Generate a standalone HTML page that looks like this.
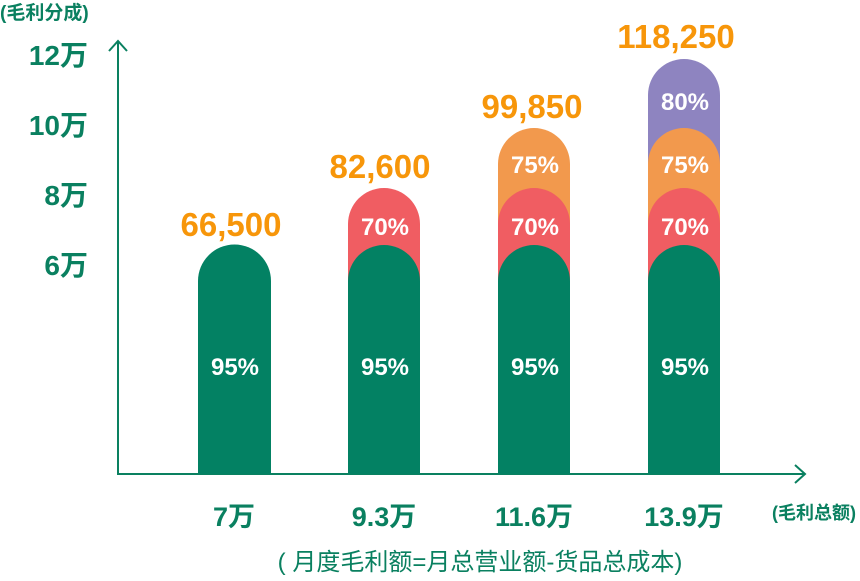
<!DOCTYPE html>
<html><head><meta charset="utf-8"><style>
body{margin:0;background:#fff;}
svg text{font-family:"Liberation Sans","Noto Sans CJK SC",sans-serif;font-weight:bold;}
</style></head><body>
<svg width="860" height="576" viewBox="0 0 860 576" xmlns="http://www.w3.org/2000/svg">
<g fill="#0a8060" stroke="none">
<text x="0" y="19" font-size="19">(毛利分成)</text>
<text x="88" y="65" font-size="28" text-anchor="end">12万</text>
<text x="88" y="135" font-size="28" text-anchor="end">10万</text>
<text x="88" y="205" font-size="28" text-anchor="end">8万</text>
<text x="88" y="275" font-size="28" text-anchor="end">6万</text>
</g>
<g stroke="#0a8060" stroke-width="2" fill="none">
<line x1="118" y1="41" x2="118" y2="475"/>
<polyline points="109,51 118,41 127,51"/>
<line x1="117" y1="474" x2="805" y2="474"/>
<polyline points="795,465 805,474 795,483"/>
</g>
<path fill="#038163" d="M198,281 A36.5,36.5 0 0 1 271,281 L271,474 L198,474 Z"/>
<path fill="#f05d62" d="M348,224 A36,36 0 0 1 420,224 L420,474 L348,474 Z"/>
<path fill="#038163" d="M348,281 A36,36 0 0 1 420,281 L420,474 L348,474 Z"/>
<path fill="#f2994d" d="M498,164 A36,36 0 0 1 570,164 L570,474 L498,474 Z"/>
<path fill="#f05d62" d="M498,224 A36,36 0 0 1 570,224 L570,474 L498,474 Z"/>
<path fill="#038163" d="M498,281 A36,36 0 0 1 570,281 L570,474 L498,474 Z"/>
<path fill="#8e84c0" d="M648,95 A36,36 0 0 1 720,95 L720,474 L648,474 Z"/>
<path fill="#f2994d" d="M648,164 A36,36 0 0 1 720,164 L720,474 L648,474 Z"/>
<path fill="#f05d62" d="M648,224 A36,36 0 0 1 720,224 L720,474 L648,474 Z"/>
<path fill="#038163" d="M648,281 A36,36 0 0 1 720,281 L720,474 L648,474 Z"/>
<g fill="#fff" font-size="24" text-anchor="middle">
<text x="235" y="375">95%</text>
<text x="385" y="375">95%</text>
<text x="535" y="375">95%</text>
<text x="685" y="375">95%</text>
<text x="385" y="235">70%</text>
<text x="535" y="235">70%</text>
<text x="685" y="235">70%</text>
<text x="535" y="173">75%</text>
<text x="685" y="173">75%</text>
<text x="685" y="110">80%</text>
</g>
<g fill="#f7960a" font-size="33" text-anchor="middle">
<text x="231" y="236">66,500</text>
<text x="380" y="178">82,600</text>
<text x="532" y="118">99,850</text>
<text x="676" y="48">118,250</text>
</g>
<g fill="#0a8060" text-anchor="middle">
<text x="234" y="526" font-size="27">7万</text>
<text x="384" y="526" font-size="27">9.3万</text>
<text x="534" y="526" font-size="27">11.6万</text>
<text x="684" y="526" font-size="27">13.9万</text>
<text x="814" y="519" font-size="18">(毛利总额)</text>
<text x="480" y="570" font-size="24" style="font-weight:normal">( 月度毛利额=月总营业额-货品总成本)</text>
</g>
</svg>
</body></html>
